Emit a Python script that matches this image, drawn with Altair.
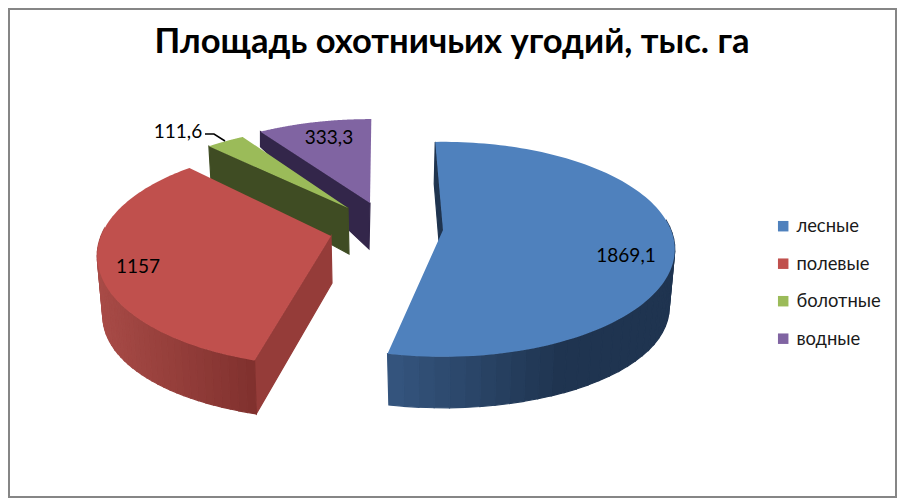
import math
import altair as alt

TITLE = "Площадь охотничьих угодий, тыс. га"
categories = ["лесные", "полевые", "болотные", "водные"]
values = [1869.1, 1157, 111.6, 333.3]
value_labels = ["1869,1", "1157", "111,6", "333,3"]
top_colors = ["#4f81bd", "#c0504d", "#9bbb59", "#8064a2"]
side_colors = ["#1f344f", "#953c39", "#3f4c23", "#33264a"]

# layout in page pixels: per-slice position of the exploded wedge
OFF = 9
K = 0.18
apex = [(443, 230), (331, 236), (348, 208), (370, 203)]
rx = [228, 230, 226, 224]
ry = [104, 107, 97, 99]
rot = [-2.3, 2.1, 2.1, 0.4]
apex_h = [48, 47, 46, 46]
radial_h = [42, 53, 33, 15]
outer_h = [51, 53, 53, 53]
apex_dx = [-1, 1, 1, -1]
outer_dx = [-1, 2, 2, 0]
grad = [((387, "#35567f"), (560, "#1f3450")), ((97, "#a84b47"), (258, "#7f302d")), None, None]
label_xy = [(626, 256), (138, 267), (178, 132), (329, 138)]
leader = [(205, 134), (214, 134), (225, 141)]
FBOT = 0.976

total = sum(values)


def top_pt(i, deg):
    t = math.radians(deg)
    u, v = math.sin(t), math.cos(t)
    s = 1 / (1 + K * v)
    return apex[i][0] + rx[i] * u * s, apex[i][1] - ry[i] * v * s


def bot_pt(i, deg):
    x, y = top_pt(i, deg)
    u = math.sin(math.radians(deg))
    return apex[i][0] + (x - apex[i][0]) * FBOT, y + outer_h[i] + 7 * u * u


def hex_mix(a, b, t):
    t = max(0, min(1, t))
    ca = [int(a[j:j + 2], 16) for j in (1, 3, 5)]
    cb = [int(b[j:j + 2], 16) for j in (1, 3, 5)]
    return "#" + "".join(f"{round(p + (q - p) * t):02x}" for p, q in zip(ca, cb))


def feat(points, fill="#000000", name=""):
    ring = [[x - OFF, y - OFF] for x, y in points]
    ring.append(ring[0])
    return {"type": "Feature", "properties": {"fill": fill, "name": name},
            "geometry": {"type": "Polygon", "coordinates": [ring]}}


walls, tops = [], []
spans = []
acc = 0.0
for i, val in enumerate(values):
    start = acc / total * 360 + rot[i]
    acc += val
    end = acc / total * 360 + rot[i]
    spans.append((start, end))

# back to front
for i in [3, 2, 1, 0]:
    a0, a1 = spans[i]
    ax, ay = apex[i]
    ox, oy = top_pt(i, a0)
    walls.append(feat([(ox, oy), (ox + outer_dx[i], oy + radial_h[i]),
                       (ax + apex_dx[i], ay + apex_h[i]), (ax, ay)], side_colors[i]))
    if grad[i]:
        n = 60
        (x0, c0), (x1, c1) = grad[i]
        for j in range(n):
            p = a0 + (a1 - a0) * j / n
            q = a0 + (a1 - a0) * (j + 1) / n
            if math.cos(math.radians(p)) > 0.05 and math.cos(math.radians(q)) > 0.05:
                continue
            tp, tq = top_pt(i, p), top_pt(i, q)
            bp, bq = bot_pt(i, p), bot_pt(i, q)
            col = hex_mix(c0, c1, ((tp[0] + tq[0]) / 2 - x0) / (x1 - x0))
            walls.append(feat([tp, tq, bq, bp], col))

for i in [3, 2, 1, 0]:
    a0, a1 = spans[i]
    n = 120
    pts = [apex[i]] + [top_pt(i, a0 + (a1 - a0) * j / n) for j in range(n + 1)]
    tops.append(feat(pts, top_colors[i], categories[i]))

proj = dict(type="identity", scale=1, translate=[0, 0])

wall_layer = alt.Chart(alt.Data(values=walls)).mark_geoshape(strokeWidth=1.2).encode(
    fill=alt.Fill("properties.fill:N", scale=None),
    stroke=alt.Stroke("properties.fill:N", scale=None),
).project(**proj)

top_layer = alt.Chart(alt.Data(values=tops)).mark_geoshape(strokeWidth=0).encode(
    color=alt.Color(
        "properties.name:N",
        scale=alt.Scale(domain=categories, range=top_colors),
        legend=alt.Legend(
            title=None, orient="none", legendX=765, legendY=208,
            symbolType="square", symbolSize=110, symbolStrokeWidth=0,
            labelFont="Lato", labelFontSize=18.4, labelColor="#1a1a1a",
            rowPadding=18.5, labelLimit=200, symbolOffset=0,
        ),
    ),
).project(**proj)

leader_layer = alt.Chart(alt.Data(values=[{
    "type": "Feature", "properties": {},
    "geometry": {"type": "LineString", "coordinates": [[x - OFF, y - OFF] for x, y in leader]},
}])).mark_geoshape(filled=False, stroke="#000000", strokeWidth=1.5).project(**proj)

label_layer = alt.Chart(alt.Data(values=[
    {"t": t, "x": p[0] - OFF, "y": p[1] - OFF} for t, p in zip(value_labels, label_xy)
])).mark_text(font="Lato", fontSize=19, color="#000000", align="center", baseline="middle").encode(
    x=alt.X("x:Q", scale=None), y=alt.Y("y:Q", scale=None), text="t:N"
)

title_layer = alt.Chart(alt.Data(values=[{"t": TITLE, "x": 452 - OFF, "y": 43 - OFF}])).mark_text(
    font="Lato", fontSize=34.6, fontWeight="bold", color="#000000", align="center", baseline="middle"
).encode(x=alt.X("x:Q", scale=None), y=alt.Y("y:Q", scale=None), text="t:N")

chart = alt.layer(wall_layer, top_layer, leader_layer, label_layer, title_layer).properties(
    width=887, height=488,
    padding={"left": 1, "top": 1, "right": 1, "bottom": 1},
    autosize=alt.AutoSizeParams(type="none"),
    background="#ffffff",
).configure_view(stroke="#868686", strokeWidth=2)

chart.save("out.html", embed_options={"renderer": "svg", "actions": False})
